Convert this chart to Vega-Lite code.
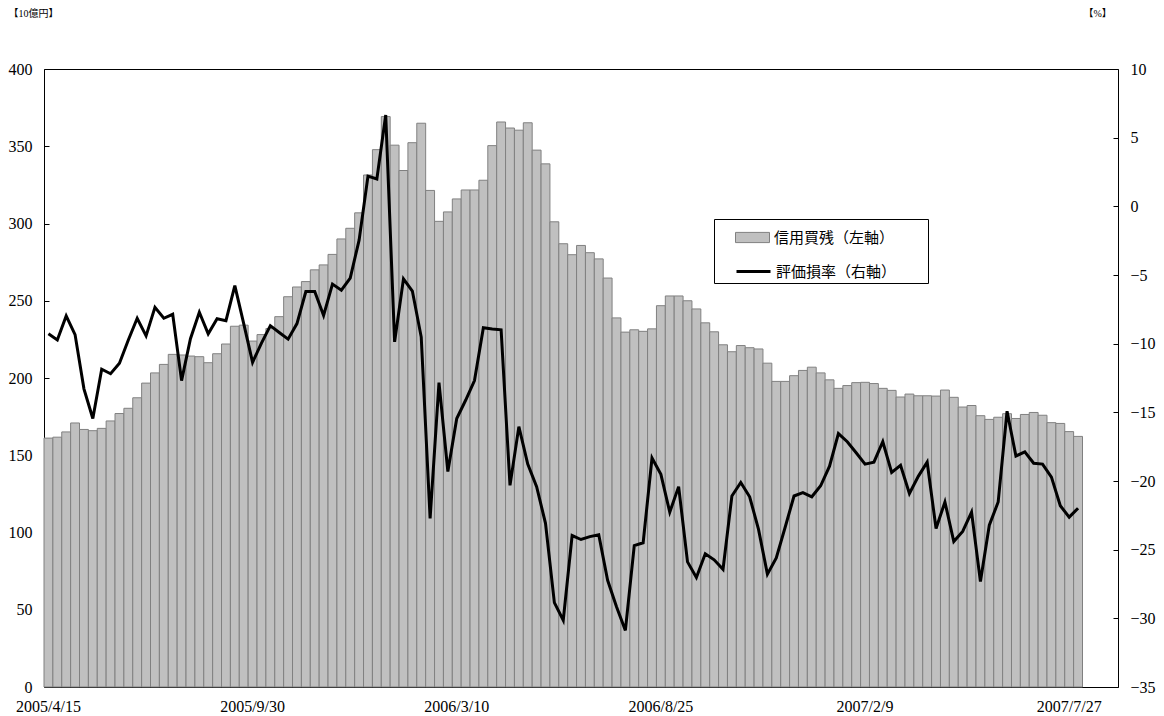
{
  "$schema": "https://vega.github.io/schema/vega-lite/v6.json",
  "width": 1074,
  "height": 618,
  "autosize": {"type": "none"},
  "padding": {"left": 44, "top": 69, "right": 46, "bottom": 29},
  "background": "white",
  "config": {
    "view": {"stroke": "#000000", "strokeWidth": 1},
    "axis": {"grid": false, "labelFont": "Liberation Serif", "labelFontSize": 16, "labelColor": "#000000", "tickColor": "#000000", "domain": false},
    "legend": {"labelFont": "Noto Sans CJK JP", "labelFontSize": 15, "labelColor": "#000000", "labelLimit": 300, "titleLimit": 600}
  },
  "data": {"values": [
    {"d":"2005/4/15","m":161.1,"r":-9.28},
    {"d":"2005/4/22","m":161.7,"r":-9.73},
    {"d":"2005/5/6","m":165.1,"r":-7.98},
    {"d":"2005/5/13","m":170.9,"r":-9.34},
    {"d":"2005/5/20","m":166.7,"r":-13.29},
    {"d":"2005/5/27","m":165.9,"r":-15.45},
    {"d":"2005/6/3","m":167.4,"r":-11.86},
    {"d":"2005/6/10","m":172.2,"r":-12.19},
    {"d":"2005/6/17","m":177.0,"r":-11.42},
    {"d":"2005/6/24","m":180.4,"r":-9.73},
    {"d":"2005/7/1","m":187.2,"r":-8.15},
    {"d":"2005/7/8","m":196.7,"r":-9.43},
    {"d":"2005/7/15","m":203.3,"r":-7.35},
    {"d":"2005/7/22","m":208.8,"r":-8.15},
    {"d":"2005/7/29","m":215.3,"r":-7.86},
    {"d":"2005/8/5","m":214.9,"r":-12.69},
    {"d":"2005/8/12","m":214.2,"r":-9.64},
    {"d":"2005/8/19","m":213.8,"r":-7.71},
    {"d":"2005/8/26","m":209.9,"r":-9.28},
    {"d":"2005/9/2","m":215.7,"r":-8.18},
    {"d":"2005/9/9","m":222.0,"r":-8.33},
    {"d":"2005/9/16","m":233.5,"r":-5.78},
    {"d":"2005/9/22","m":234.2,"r":-8.54},
    {"d":"2005/9/30","m":223.9,"r":-11.36},
    {"d":"2005/10/7","m":228.1,"r":-9.96},
    {"d":"2005/10/14","m":232.0,"r":-8.69},
    {"d":"2005/10/21","m":239.7,"r":-9.19},
    {"d":"2005/10/28","m":252.6,"r":-9.67},
    {"d":"2005/11/4","m":258.9,"r":-8.54},
    {"d":"2005/11/11","m":262.4,"r":-6.2},
    {"d":"2005/11/18","m":270.0,"r":-6.2},
    {"d":"2005/11/25","m":273.2,"r":-7.95},
    {"d":"2005/12/2","m":280.0,"r":-5.66},
    {"d":"2005/12/9","m":290.0,"r":-6.11},
    {"d":"2005/12/16","m":296.9,"r":-5.22},
    {"d":"2005/12/22","m":306.9,"r":-2.46},
    {"d":"2005/12/30","m":331.4,"r":2.2},
    {"d":"2006/1/6","m":347.8,"r":1.99},
    {"d":"2006/1/13","m":369.2,"r":6.65},
    {"d":"2006/1/20","m":350.7,"r":-9.87},
    {"d":"2006/1/27","m":334.3,"r":-5.28},
    {"d":"2006/2/3","m":352.3,"r":-6.17},
    {"d":"2006/2/10","m":364.9,"r":-9.52},
    {"d":"2006/2/17","m":321.4,"r":-22.72},
    {"d":"2006/2/24","m":301.4,"r":-12.84},
    {"d":"2006/3/3","m":307.5,"r":-19.31},
    {"d":"2006/3/10","m":315.9,"r":-15.45},
    {"d":"2006/3/17","m":321.7,"r":-14.12},
    {"d":"2006/3/24","m":321.7,"r":-12.69},
    {"d":"2006/3/31","m":328.0,"r":-8.84},
    {"d":"2006/4/7","m":350.4,"r":-8.93},
    {"d":"2006/4/14","m":365.7,"r":-8.99},
    {"d":"2006/4/21","m":361.8,"r":-20.32},
    {"d":"2006/4/28","m":360.4,"r":-16.04},
    {"d":"2006/5/12","m":365.2,"r":-18.77},
    {"d":"2006/5/19","m":347.5,"r":-20.41},
    {"d":"2006/5/26","m":338.6,"r":-23.08},
    {"d":"2006/6/2","m":301.1,"r":-28.86},
    {"d":"2006/6/9","m":286.9,"r":-30.14},
    {"d":"2006/6/16","m":279.8,"r":-23.97},
    {"d":"2006/6/23","m":285.8,"r":-24.26},
    {"d":"2006/6/30","m":281.1,"r":-24.05},
    {"d":"2006/7/7","m":277.1,"r":-23.91},
    {"d":"2006/7/14","m":264.7,"r":-27.23},
    {"d":"2006/7/21","m":238.9,"r":-29.16},
    {"d":"2006/7/28","m":229.7,"r":-30.88},
    {"d":"2006/8/4","m":231.2,"r":-24.71},
    {"d":"2006/8/11","m":230.2,"r":-24.5},
    {"d":"2006/8/18","m":231.8,"r":-18.33},
    {"d":"2006/8/25","m":246.8,"r":-19.52},
    {"d":"2006/9/1","m":253.1,"r":-22.27},
    {"d":"2006/9/8","m":253.1,"r":-20.41},
    {"d":"2006/9/15","m":250.0,"r":-25.89},
    {"d":"2006/9/22","m":244.7,"r":-27.02},
    {"d":"2006/9/29","m":235.7,"r":-25.3},
    {"d":"2006/10/6","m":229.9,"r":-25.74},
    {"d":"2006/10/13","m":221.5,"r":-26.43},
    {"d":"2006/10/20","m":217.0,"r":-21.09},
    {"d":"2006/10/27","m":221.0,"r":-20.11},
    {"d":"2006/11/2","m":219.6,"r":-21.15},
    {"d":"2006/11/10","m":218.8,"r":-23.52},
    {"d":"2006/11/17","m":209.6,"r":-26.78},
    {"d":"2006/11/24","m":197.8,"r":-25.6},
    {"d":"2006/12/1","m":197.8,"r":-23.37},
    {"d":"2006/12/8","m":201.5,"r":-21.09},
    {"d":"2006/12/15","m":204.9,"r":-20.85},
    {"d":"2006/12/22","m":207.0,"r":-21.15},
    {"d":"2007/1/5","m":203.3,"r":-20.35},
    {"d":"2007/1/12","m":198.8,"r":-18.92},
    {"d":"2007/1/19","m":193.3,"r":-16.55},
    {"d":"2007/1/26","m":195.1,"r":-17.14},
    {"d":"2007/2/2","m":197.0,"r":-17.94},
    {"d":"2007/2/9","m":197.2,"r":-18.77},
    {"d":"2007/2/16","m":196.4,"r":-18.63},
    {"d":"2007/2/23","m":193.3,"r":-17.14},
    {"d":"2007/3/2","m":192.0,"r":-19.37},
    {"d":"2007/3/9","m":187.7,"r":-18.86},
    {"d":"2007/3/16","m":189.6,"r":-20.91},
    {"d":"2007/3/23","m":188.5,"r":-19.66},
    {"d":"2007/3/30","m":188.5,"r":-18.63},
    {"d":"2007/4/6","m":188.3,"r":-23.46},
    {"d":"2007/4/13","m":192.2,"r":-21.53},
    {"d":"2007/4/20","m":187.5,"r":-24.41},
    {"d":"2007/4/27","m":181.2,"r":-23.67},
    {"d":"2007/5/11","m":182.2,"r":-22.27},
    {"d":"2007/5/18","m":175.6,"r":-27.32},
    {"d":"2007/5/25","m":173.2,"r":-23.22},
    {"d":"2007/6/1","m":174.6,"r":-21.53},
    {"d":"2007/6/8","m":176.9,"r":-14.92},
    {"d":"2007/6/15","m":173.8,"r":-18.18},
    {"d":"2007/6/22","m":176.4,"r":-17.88},
    {"d":"2007/6/29","m":177.7,"r":-18.71},
    {"d":"2007/7/6","m":175.9,"r":-18.77},
    {"d":"2007/7/13","m":171.1,"r":-19.72},
    {"d":"2007/7/20","m":170.6,"r":-21.8},
    {"d":"2007/7/27","m":165.3,"r":-22.63},
    {"d":"2007/8/3","m":162.2,"r":-21.98}
  ]},
  "layer": [
    {
      "mark": {"type": "bar", "stroke": "#808080", "strokeWidth": 1},
      "encoding": {
        "x": {
          "field": "d", "type": "ordinal", "sort": null,
          "scale": {"type": "band", "paddingInner": 0, "paddingOuter": 0, "range": [0, 1038.5]},
          "axis": {
            "title": null, "orient": "bottom", "labelAngle": 0, "ticks": false, "labelPadding": 11,
            "values": ["2005/4/15", "2005/9/30", "2006/3/10", "2006/8/25", "2007/2/9", "2007/7/27"]
          }
        },
        "y": {
          "field": "m", "type": "quantitative",
          "scale": {"domain": [0, 400], "nice": false, "zero": true},
          "axis": {
            "orient": "left", "values": [0, 50, 100, 150, 200, 250, 300, 350, 400],
            "tickSize": -5, "labelPadding": 17,
            "title": "【10億円】", "titleAngle": 0, "titleAlign": "left", "titleBaseline": "middle",
            "titleX": -36, "titleY": -56, "titleFont": "Liberation Serif, Noto Sans CJK JP",
            "titleFontSize": 10, "titleFontWeight": "normal", "titleColor": "#000000"
          }
        },
        "fill": {
          "datum": "信用買残（左軸）", "type": "nominal",
          "scale": {"range": ["#c0c0c0"]},
          "legend": {
            "orient": "none", "legendX": 670, "legendY": 150,
            "title": ["\u3000", "\u3000", "\u3000"],
            "titleOrient": "right", "titlePadding": 33, "titleFont": "Noto Sans CJK JP", "titleFontSize": 15,
            "titleLineHeight": 34, "titleBaseline": "top",
            "strokeColor": "#000000", "fillColor": "#ffffff", "padding": 1,
            "symbolOffset": 20, "labelOffset": 4,
            "symbolSize": 1156, "symbolType": "M-1,-0.3H1V0.3H-1Z",
            "symbolStrokeColor": "#808080", "symbolStrokeWidth": 1
          }
        }
      }
    },
    {
      "mark": {"type": "line", "strokeWidth": 3},
      "encoding": {
        "x": {
          "field": "d", "type": "ordinal", "sort": null,
          "axis": {
            "title": null, "orient": "bottom", "labels": false, "ticks": true, "tickSize": -5,
            "bandPosition": 0,
            "values": ["2005/9/30", "2006/3/10", "2006/8/25", "2007/2/9", "2007/7/27"]
          }
        },
        "y": {
          "field": "r", "type": "quantitative",
          "scale": {"domain": [-35, 10], "nice": false, "zero": false},
          "axis": {
            "orient": "right", "values": [-35, -30, -25, -20, -15, -10, -5, 0, 5, 10],
            "tickSize": -5, "labelPadding": 17,
            "title": "【%】", "titleAngle": 0, "titleAlign": "left", "titleBaseline": "middle",
            "titleX": -35, "titleY": -56, "titleFont": "Liberation Serif, Noto Sans CJK JP",
            "titleFontSize": 10, "titleFontWeight": "normal", "titleColor": "#000000"
          }
        },
        "stroke": {
          "datum": "評価損率（右軸）", "type": "nominal",
          "scale": {"range": ["#000000"]},
          "legend": {
            "orient": "none", "legendX": 670, "legendY": 183, "title": null,
            "padding": 1, "symbolOffset": 20, "labelOffset": 4,
            "symbolSize": 1156, "symbolType": "stroke", "symbolStrokeWidth": 3
          }
        }
      }
    }
  ],
  "resolve": {"scale": {"y": "independent"}, "axis": {"x": "independent"}}
}
